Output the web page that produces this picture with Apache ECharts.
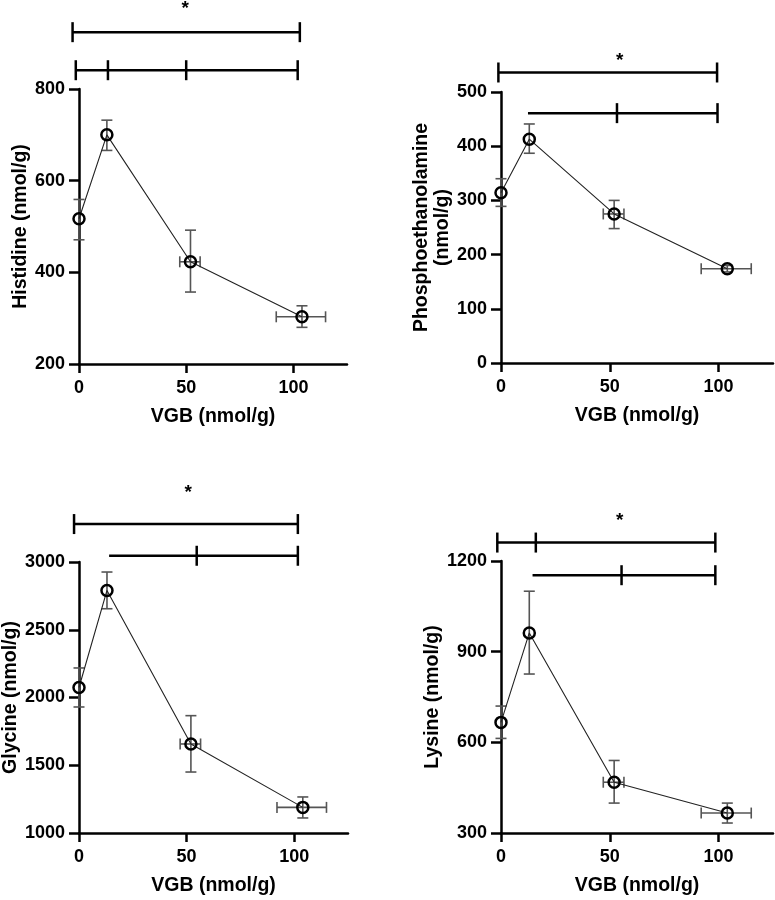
<!DOCTYPE html>
<html>
<head>
<meta charset="utf-8">
<script src="https://cdn.jsdelivr.net/npm/echarts@6/dist/echarts.min.js"></script>
<style>html,body{margin:0;padding:0;background:#fff}#c{width:775px;height:900px}</style>
</head>
<body>
<div id="c"></div>
<script>
// ---- data ----
const vgb = [0, 13, 52, 104];
const vgbLow = [0, 13, 47, 92];
const vgbHigh = [0, 13, 56.5, 115];

const histidine = [517, 700, 423, 303];
const histidineLow = [471, 666, 357, 280];
const histidineHigh = [559, 732, 492, 327];

const phosphoethanolamine = [314, 413, 275, 174];
const phosphoethanolamineLow = [289, 387, 248, 168];
const phosphoethanolamineHigh = [340, 441, 300, 180];

const glycine = [2074, 2790, 1657, 1189];
const glycineLow = [1930, 2655, 1450, 1111];
const glycineHigh = [2218, 2926, 1866, 1266];

const lysine = [666, 962, 468, 366];
const lysineLow = [613, 826, 399, 333];
const lysineHigh = [720, 1100, 540, 399];

const xTicks = [0, 50, 100];
const yTitles = ['Histidine (nmol/g)', 'Phosphoethanolamine\n(nmol/g)', 'Glycine (nmol/g)', 'Lysine (nmol/g)'];
const xTitle = 'VGB (nmol/g)';
const yMins = [200, 0, 1000, 300];
const yMaxs = [800, 500, 3000, 1200];
const yIntervals = [200, 100, 500, 300];

// significance brackets: [from, level, to] and tick positions
const bracketsHistidine = [[-3, 924, 103], [-1.5, 841, 102]];
const bracketTicksHistidine = [[-3, 103], [-1.5, 13.5, 50, 102]];
const bracketsPhospho = [[-1.2, 536, 99.3], [12.4, 461, 99.5]];
const bracketTicksPhospho = [[-1.2, 99.3], [53.3, 99.5]];
const bracketsGlycine = [[-2.3, 3280, 101.7], [14, 3046, 101.7]];
const bracketTicksGlycine = [[-2.3, 101.7], [54.7, 101.7]];
const bracketsLysine = [[-1.7, 1261, 98.5], [14.5, 1153, 98.5]];
const bracketTicksLysine = [[-1.7, 16, 98.5], [55.4, 98.5]];
const starPositions = [[49.5, 974], [54.6, 557], [50.8, 3513], [54.6, 1334]];

// ---- build ----
const panels = [
  {y: histidine, lo: histidineLow, hi: histidineHigh, br: bracketsHistidine, bt: bracketTicksHistidine},
  {y: phosphoethanolamine, lo: phosphoethanolamineLow, hi: phosphoethanolamineHigh, br: bracketsPhospho, bt: bracketTicksPhospho},
  {y: glycine, lo: glycineLow, hi: glycineHigh, br: bracketsGlycine, bt: bracketTicksGlycine},
  {y: lysine, lo: lysineLow, hi: lysineHigh, br: bracketsLysine, bt: bracketTicksLysine}
];
const gridBoxes = [
  {left: 79, top: 89, width: 268, height: 275},
  {left: 501, top: 92, width: 272, height: 271},
  {left: 79, top: 562, width: 269, height: 271},
  {left: 501, top: 561, width: 272, height: 272}
];
const nameGaps = [48, 46, 56, 53];
const FONT = '"Liberation Sans", Arial, sans-serif';

const grids = [], xAxes = [], yAxes = [], series = [];
panels.forEach((p, i) => {
  grids.push(Object.assign({containLabel: false, outerBoundsMode: 'none'}, gridBoxes[i]));
  const axisCommon = {
    axisLine: {show: true, onZero: false, lineStyle: {color: '#000', width: 2.5}},
    axisTick: {show: true, length: 9, lineStyle: {color: '#000', width: 2.5}},
    splitLine: {show: false},
    axisLabel: {color: '#000', fontFamily: FONT, fontWeight: 'bold', fontSize: 18, formatter: v => String(v)},
    nameTextStyle: {color: '#000', fontFamily: FONT, fontWeight: 'bold', fontSize: 19.5, lineHeight: 21},
    nameLocation: 'middle'
  };
  xAxes.push(Object.assign({}, axisCommon, {
    type: 'value', gridIndex: i, min: 0, max: 125,
    name: xTitle, nameGap: 42,
    axisTick: Object.assign({}, axisCommon.axisTick, {customValues: xTicks}),
    axisLabel: Object.assign({}, axisCommon.axisLabel, {customValues: xTicks, margin: 15})
  }));
  yAxes.push(Object.assign({}, axisCommon, {
    type: 'value', gridIndex: i, min: yMins[i], max: yMaxs[i], interval: yIntervals[i],
    name: yTitles[i], nameGap: nameGaps[i],
    axisTick: Object.assign({}, axisCommon.axisTick, {length: 10}),
    axisLabel: Object.assign({}, axisCommon.axisLabel, {margin: 14})
  }));
  // error bars
  series.push({
    type: 'custom', xAxisIndex: i, yAxisIndex: i, z: 2, clip: false,
    data: vgb.map((x, k) => [x, p.y[k], p.lo[k], p.hi[k], vgbLow[k], vgbHigh[k]]),
    encode: {x: 0, y: 1},
    renderItem: function (params, api) {
      const x = api.value(0), y = api.value(1);
      const c = api.coord([x, y]);
      const lo = api.coord([x, api.value(2)]);
      const hi = api.coord([x, api.value(3)]);
      const xl = api.coord([api.value(4), y]);
      const xh = api.coord([api.value(5), y]);
      const st = {stroke: '#555', lineWidth: 1.6};
      const cap = 5.5;
      const ch = [
        {type: 'line', shape: {x1: c[0], y1: lo[1], x2: c[0], y2: hi[1]}, style: st},
        {type: 'line', shape: {x1: c[0] - cap, y1: lo[1], x2: c[0] + cap, y2: lo[1]}, style: st},
        {type: 'line', shape: {x1: c[0] - cap, y1: hi[1], x2: c[0] + cap, y2: hi[1]}, style: st}
      ];
      if (xh[0] - xl[0] > 1) {
        ch.push({type: 'line', shape: {x1: xl[0], y1: c[1], x2: xh[0], y2: c[1]}, style: st});
        ch.push({type: 'line', shape: {x1: xl[0], y1: c[1] - cap, x2: xl[0], y2: c[1] + cap}, style: st});
        ch.push({type: 'line', shape: {x1: xh[0], y1: c[1] - cap, x2: xh[0], y2: c[1] + cap}, style: st});
      }
      return {type: 'group', children: ch};
    }
  });
  // line + markers
  series.push({
    type: 'line', xAxisIndex: i, yAxisIndex: i, z: 3,
    data: vgb.map((x, k) => [x, p.y[k]]),
    symbol: 'circle', symbolSize: 11, showAllSymbol: true,
    lineStyle: {color: '#222', width: 1.1},
    itemStyle: {color: 'rgba(255,255,255,0)', borderColor: '#000', borderWidth: 2.5},
    emphasis: {disabled: true}, animation: false
  });
  // brackets
  const ticksArr = p.bt;
  series.push({
    type: 'custom', xAxisIndex: i, yAxisIndex: i, z: 4, clip: false,
    data: p.br, encode: {x: [0, 2], y: 1},
    renderItem: function (params, api) {
      const a = api.coord([api.value(0), api.value(1)]);
      const b = api.coord([api.value(2), api.value(1)]);
      const st = {stroke: '#000', lineWidth: 2.5};
      const ch = [{type: 'line', shape: {x1: a[0], y1: a[1], x2: b[0], y2: b[1]}, style: st}];
      ticksArr[params.dataIndex].forEach(t => {
        const q = api.coord([t, api.value(1)]);
        ch.push({type: 'line', shape: {x1: q[0], y1: q[1] - 10, x2: q[0], y2: q[1] + 10}, style: st});
      });
      return {type: 'group', children: ch};
    }
  });
  // star
  series.push({
    type: 'custom', xAxisIndex: i, yAxisIndex: i, z: 4, clip: false,
    data: [starPositions[i]], encode: {x: 0, y: 1},
    renderItem: function (params, api) {
      const c = api.coord([api.value(0), api.value(1)]);
      return {type: 'text', x: c[0], y: c[1], style: {text: '*', fill: '#000', font: 'bold 19px ' + FONT, align: 'center', verticalAlign: 'middle'}};
    }
  });
});

const chart = echarts.init(document.getElementById('c'), null, {renderer: 'canvas'});
chart.setOption({animation: false, backgroundColor: '#fff', grid: grids, xAxis: xAxes, yAxis: yAxes, series: series});
</script>
</body>
</html>
